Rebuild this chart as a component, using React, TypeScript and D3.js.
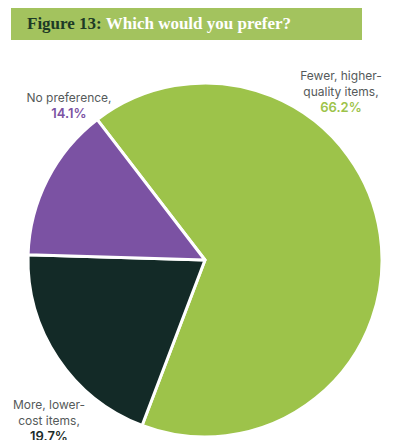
import React from 'react';
import * as d3 from 'd3';

const categories = ['Fewer, higher-quality items', 'More, lower-cost items', 'No preference'];
const values = [66.2, 19.7, 14.1];
const colors = ['#9dc34a', '#132a27', '#7b52a3'];
const labelLines = [
  ['Fewer, higher-', 'quality items,'],
  ['More, lower-', 'cost items,'],
  ['No preference,'],
];
const pctLabels = ['66.2%', '19.7%', '14.1%'];
const pctColors = ['#9dc34a', '#1c2b2a', '#7b52a3'];

const W = 400;
const H = 448;
const cx = 205;
const cy = 260;
const radius = 177;

// label anchor points (centre of text block, first baseline)
const labelPos = [
  { x: 341, y: 80 },
  { x: 49, y: 409 },
  { x: 69, y: 102 },
];

const App: React.FC = () => {
  const data = categories.map((c, i) => ({ label: c, value: values[i], color: colors[i] }));
  const pie = d3
    .pie<{ label: string; value: number; color: string }>()
    .value((d) => d.value)
    .sort(null)
    .startAngle((-37.5 * Math.PI) / 180)
    .endAngle((-37.5 * Math.PI) / 180 + 2 * Math.PI);
  const arc = d3
    .arc<d3.PieArcDatum<{ label: string; value: number; color: string }>>()
    .innerRadius(0)
    .outerRadius(radius);
  const arcs = pie(data);

  return (
    <div style={{ width: W, height: H, margin: -8, background: '#fff' }}>
      <svg width={W} height={H} style={{ display: 'block' }}>
        {/* Title band */}
        <rect x={11} y={6} width={351} height={34} fill="#a3c35e" />
        <text x={27} y={29} fontFamily="'Liberation Serif', serif" fontWeight="bold" fontSize={17}>
          <tspan fill="#1d3a26">Figure 13: </tspan>
          <tspan fill="#ffffff">Which would you prefer?</tspan>
        </text>

        <g transform={`translate(${cx},${cy})`}>
          {arcs.map((a, i) => (
            <path key={i} d={arc(a) || ''} fill={a.data.color} stroke="#ffffff" strokeWidth={3} strokeLinejoin="round" />
          ))}
        </g>

        {labelLines.map((lines, i) => (
          <text
            key={i}
            x={labelPos[i].x}
            y={labelPos[i].y}
            textAnchor="middle"
            fontFamily="Inter, sans-serif"
            fontSize={12}
          >
            {lines.map((l, j) => (
              <tspan key={j} x={labelPos[i].x} dy={j === 0 ? 0 : 16} fill="#555a5a">
                {l}
              </tspan>
            ))}
            <tspan x={labelPos[i].x} dy={16} fill={pctColors[i]} fontWeight={600} fontSize={13}>
              {pctLabels[i]}
            </tspan>
          </text>
        ))}
      </svg>
    </div>
  );
};

export default App;
